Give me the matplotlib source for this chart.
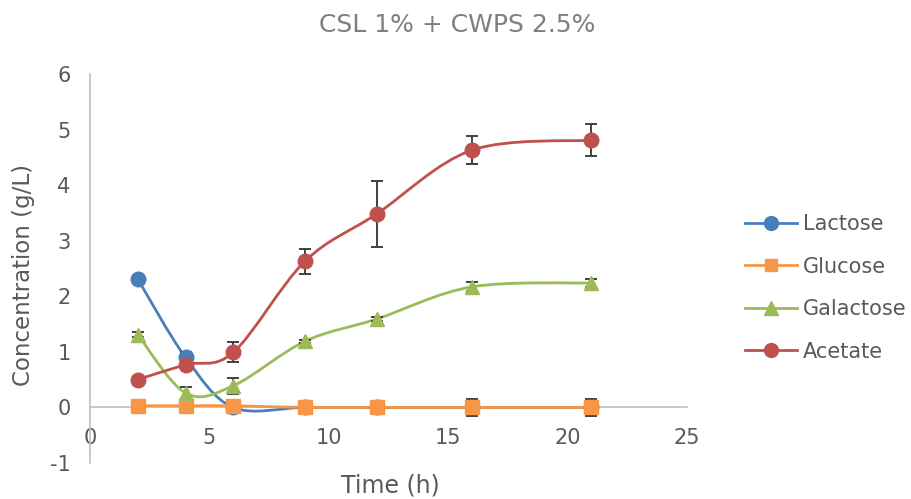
import matplotlib
matplotlib.use("Agg")
import matplotlib.pyplot as plt
from matplotlib.path import Path
from matplotlib.patches import PathPatch
from matplotlib.lines import Line2D
import numpy as np

plt.rcParams['font.family'] = ['DejaVu Sans']
plt.rcParams['axes.unicode_minus'] = False

time_h = [2, 4, 6, 9, 12, 16, 21]
lactose = [2.31, 0.90, 0.0, 0.0, 0.0, 0.0, 0.0]
lactose_err = [0.0, 0.10, 0.0, 0.0, 0.0, 0.0, 0.0]
glucose = [0.03, 0.03, 0.03, 0.0, 0.0, 0.0, 0.0]
glucose_err = [0.0, 0.0, 0.0, 0.0, 0.04, 0.15, 0.15]
galactose = [1.31, 0.26, 0.39, 1.19, 1.59, 2.17, 2.24]
galactose_err = [0.05, 0.10, 0.14, 0.03, 0.03, 0.08, 0.08]
acetate = [0.50, 0.77, 0.99, 2.63, 3.48, 4.63, 4.81]
acetate_err = [0.0, 0.05, 0.18, 0.22, 0.60, 0.25, 0.29]

series = [
    ("Lactose", lactose, lactose_err, "#4A7EBB", "o", 10.5),
    ("Glucose", glucose, glucose_err, "#F79646", "s", 9.5),
    ("Galactose", galactose, galactose_err, "#9BBB59", "^", 10.5),
    ("Acetate", acetate, acetate_err, "#C0504D", "o", 10.5),
]

fig = plt.figure(figsize=(9.11, 4.99), dpi=100)
ax = fig.add_axes([90/911, 1-463/499, (687-90)/911, (463-74)/499])
ax.set_xlim(0, 25)
ax.set_ylim(-1, 6)


def smooth_path(x, y, k=1/6):
    pts = np.column_stack([x, y]).astype(float)
    n = len(pts)
    verts = [pts[0]]
    codes = [Path.MOVETO]
    for i in range(n - 1):
        p0 = pts[i - 1] if i > 0 else pts[i]
        p1 = pts[i]
        p2 = pts[i + 1]
        p3 = pts[i + 2] if i + 2 < n else pts[i + 1]
        c1 = p1 + (p2 - p0) * k
        c2 = p2 - (p3 - p1) * k
        verts += [c1, c2, p2]
        codes += [Path.CURVE4] * 3
    return Path(verts, codes)


handles = []
for z, (name, vals, err, col, mk, ms) in enumerate(series):
    zb = 3 + z * 3
    ax.add_patch(PathPatch(smooth_path(time_h, vals), fill=False, edgecolor=col,
                           lw=2.0, zorder=zb, capstyle='round'))
    e = np.array(err)
    mask = e > 0
    if mask.any():
        ax.errorbar(np.array(time_h)[mask], np.array(vals)[mask], yerr=e[mask],
                    fmt='none', ecolor='#404040', elinewidth=1.4, capsize=4,
                    capthick=1.4, zorder=zb + 1)
    ax.plot(time_h, vals, linestyle='none', marker=mk, markersize=ms,
            color=col, markeredgecolor=col, zorder=zb + 2)
    handles.append(Line2D([0], [0], color=col, lw=2.0, marker=mk,
                          markersize=ms - 0.5, markeredgecolor=col))

for s in ['top', 'right']:
    ax.spines[s].set_visible(False)
ax.spines['bottom'].set_position(('data', 0))
ax.spines['left'].set_position(('data', 0))
for s in ['bottom', 'left']:
    ax.spines[s].set_color('#BFBFBF')
    ax.spines[s].set_linewidth(1.2)
ax.spines['bottom'].set_zorder(1)

ax.set_xticks([0, 5, 10, 15, 20, 25])
ax.set_yticks([-1, 0, 1, 2, 3, 4, 5, 6])
ax.tick_params(axis='both', length=0, labelsize=15, labelcolor='#595959')
ax.tick_params(axis='x', pad=15)
ax.tick_params(axis='y', pad=14)

fig.text(0.502, 0.95, "CSL 1% + CWPS 2.5%", ha='center', va='center',
         fontsize=18, color='#7F7F7F')
fig.text(390/911, 1-485/499, "Time (h)", ha='center', va='center',
         fontsize=17, color='#595959')
fig.text(24/911, 1-275/499, "Concentration (g/L)", ha='center', va='center',
         fontsize=16.5, color='#595959', rotation=90)

leg = fig.legend(handles, [s[0] for s in series], loc='center left',
                 bbox_to_anchor=(726/911, 1-288/499), frameon=False,
                 fontsize=15, labelcolor='#595959', handlelength=2.5,
                 handletextpad=0.3, labelspacing=1.08)

fig.savefig("out.png", dpi=100)
